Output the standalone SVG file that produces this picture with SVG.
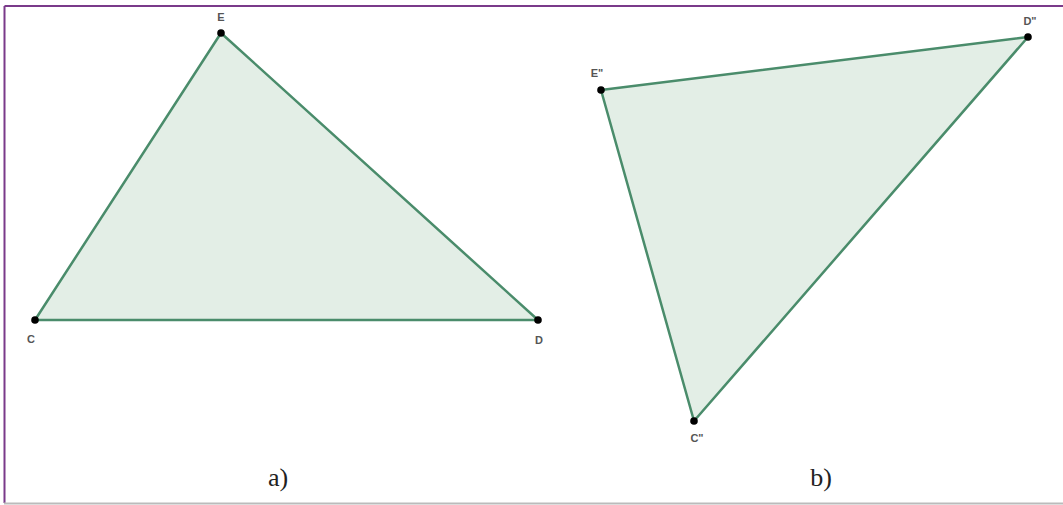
<svg xmlns="http://www.w3.org/2000/svg" width="1063" height="505" viewBox="0 0 1063 505">
<style>
.tri{fill:#e3eee6;stroke:#4a8c6b;stroke-width:2.5;stroke-linejoin:round}
.pt{fill:#000}
.lbl{font-family:"Liberation Sans",Arial,sans-serif;font-size:11px;font-weight:bold;fill:#555}
.cap{font-family:"Liberation Serif","Times New Roman",serif;font-size:26px;fill:#222;text-anchor:middle}
</style>
<rect x="0" y="0" width="1063" height="505" fill="#fff"/>
<line x1="4.5" y1="6" x2="1063" y2="6" stroke="#7a3a8a" stroke-width="2"/>
<line x1="4.5" y1="6" x2="4.5" y2="503" stroke="#7a3a8a" stroke-width="2"/>
<line x1="4" y1="503.5" x2="1063" y2="503.5" stroke="#bbb" stroke-width="2"/>
<g id="connectors">
<polygon class="tri" points="221,33 35,320 538,320"/>
<polygon class="tri" points="601,90 1028,37 694,421"/>
</g>
<g id="E"><circle class="pt" cx="221" cy="33" r="3.8"/><text class="lbl" x="221" y="21" text-anchor="middle">E</text></g>
<g id="C"><circle class="pt" cx="35" cy="320" r="3.8"/><text class="lbl" x="31" y="343" text-anchor="middle">C</text></g>
<g id="D"><circle class="pt" cx="538" cy="320" r="3.8"/><text class="lbl" x="539" y="344" text-anchor="middle">D</text></g>
<g id="E2"><circle class="pt" cx="601" cy="90" r="3.8"/><text class="lbl" x="597" y="77" text-anchor="middle">E"</text></g>
<g id="D2"><circle class="pt" cx="1028" cy="37" r="3.8"/><text class="lbl" x="1030" y="25" text-anchor="middle">D"</text></g>
<g id="C2"><circle class="pt" cx="694" cy="421" r="3.8"/><text class="lbl" x="697" y="442" text-anchor="middle">C"</text></g>
<text class="cap" x="278" y="486">a)</text>
<text class="cap" x="821" y="486">b)</text>
</svg>
